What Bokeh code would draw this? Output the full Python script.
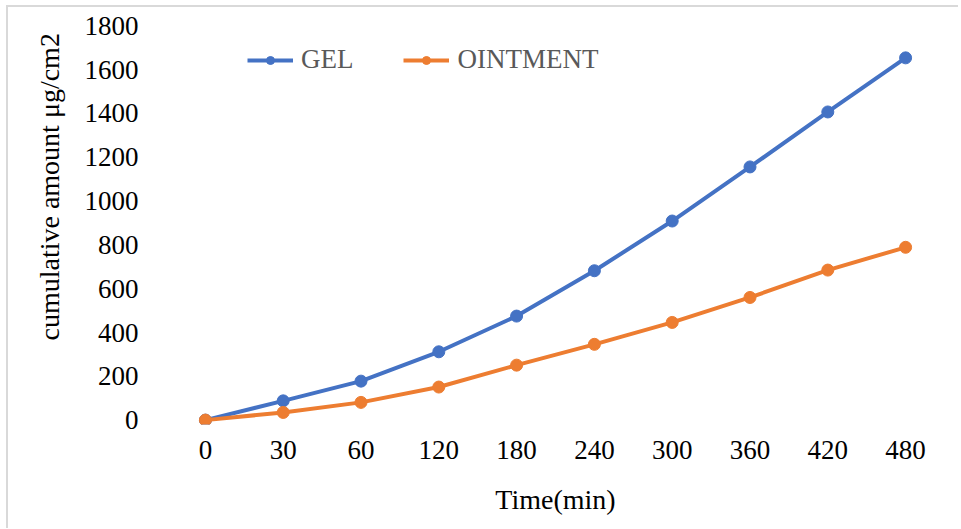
from bokeh.plotting import figure
from bokeh.models import FactorRange, Range1d, FixedTicker, Legend, LegendItem, Title
from bokeh.embed import file_html
from bokeh.resources import INLINE

times = ["0", "30", "60", "120", "180", "240", "300", "360", "420", "480"]
gel = [0, 88, 178, 312, 475, 682, 909, 1156, 1407, 1654]
ointment = [0, 35, 81, 151, 251, 346, 446, 560, 685, 789]
y_ticks = [0, 200, 400, 600, 800, 1000, 1200, 1400, 1600, 1800]

FONT = "Liberation Serif"
BLUE = "#4472C4"
ORANGE = "#ED7D31"

p = figure(
    x_range=FactorRange(*times),
    y_range=Range1d(-20, 1820),
    frame_width=778, frame_height=403,
    min_border_left=158, min_border_right=14,
    min_border_top=14, min_border_bottom=104,
    output_backend="svg", toolbar_location=None,
)
p.outline_line_color = None
p.background_fill_color = "white"
p.border_fill_color = "white"
p.xgrid.grid_line_color = None
p.ygrid.grid_line_color = None
p.styles = {
    "margin-left": "6px", "margin-top": "5px",
    "border-left": "2px solid #d9d9d9", "border-top": "2px solid #d9d9d9",
}

# y axis
p.yaxis.ticker = FixedTicker(ticks=y_ticks)
p.yaxis.axis_line_color = None
p.yaxis.major_tick_line_color = None
p.yaxis.minor_tick_line_color = None
p.yaxis.major_tick_in = 0
p.yaxis.major_tick_out = 0
p.yaxis.major_label_standoff = 28
p.yaxis.major_label_text_font = FONT
p.yaxis.major_label_text_font_size = "27px"
p.yaxis.major_label_text_color = "black"

# x axis
p.xaxis.axis_line_color = None
p.xaxis.major_tick_line_color = None
p.xaxis.major_tick_in = 0
p.xaxis.major_tick_out = 0
p.xaxis.major_label_standoff = 16
p.xaxis.major_label_text_font = FONT
p.xaxis.major_label_text_font_size = "27px"
p.xaxis.major_label_text_color = "black"
p.xaxis.axis_label = "Time(min)"
p.xaxis.axis_label_text_font = FONT
p.xaxis.axis_label_text_font_size = "28px"
p.xaxis.axis_label_text_font_style = "normal"
p.xaxis.axis_label_text_color = "black"
p.xaxis.axis_label_standoff = 22

ytitle = Title(
    text="cumulative amount μg/cm2", align="left", offset=84,
    text_font=FONT, text_font_size="28px", text_font_style="normal",
    text_color="black", standoff=34,
)
p.add_layout(ytitle, "left")

gl = p.line(times, gel, line_color=BLUE, line_width=4)
gs = p.scatter(times, gel, marker="circle", size=12, fill_color=BLUE, line_color=BLUE)
ol = p.line(times, ointment, line_color=ORANGE, line_width=4)
os_ = p.scatter(times, ointment, marker="circle", size=12, fill_color=ORANGE, line_color=ORANGE)

legend = Legend(
    items=[LegendItem(label="GEL", renderers=[gl, gs]),
           LegendItem(label="OINTMENT", renderers=[ol, os_])],
    orientation="horizontal",
    location=(81, 349),
    glyph_width=46, glyph_height=20,
    label_standoff=8, spacing=50, padding=0, margin=0,
    label_text_font=FONT, label_text_font_size="27px", label_text_color="#595959",
    border_line_color=None, background_fill_alpha=0,
)
p.add_layout(legend)

open("out.html", "w").write(file_html(p, INLINE))
